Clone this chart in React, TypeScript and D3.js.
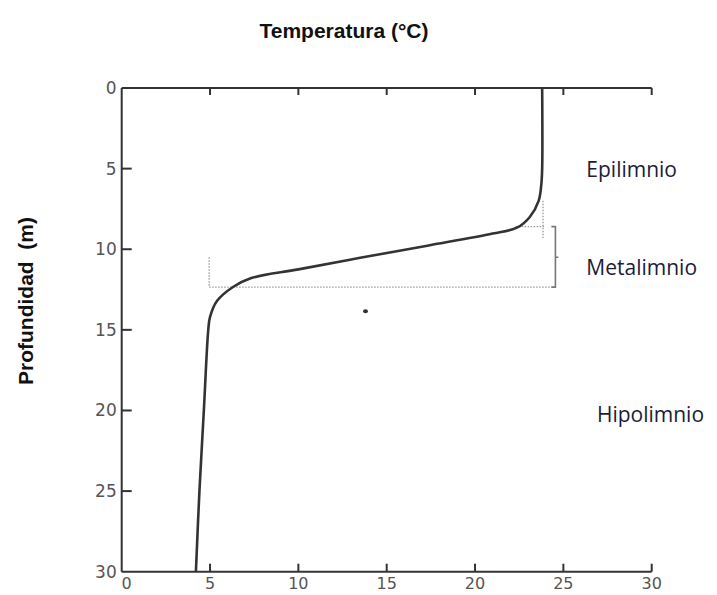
import React from "react";
import * as d3 from "d3";

// perfil térmico de un lago estratificado
const temperature = [23.8, 23.8, 23.75, 23.6, 23.1, 22.4, 21.0, 17.3, 13.5, 10.0, 7.3, 6.3, 5.4, 5.0, 4.9, 4.65, 4.4, 4.2];
const depth = [0, 5, 6, 7, 8, 8.65, 9.03, 9.78, 10.53, 11.25, 11.8, 12.34, 13.2, 14.2, 15, 20, 25, 30];

const xTicks = [0, 5, 10, 15, 20, 25, 30];
const yTicks = [0, 5, 10, 15, 20, 25, 30];

// límites del metalimnio (líneas punteadas y llave)
const metaTop = 8.6;
const metaBottom = 12.35;
const metaMid = 10.5;
const braceTemp = 24.55;

const layers = ["Epilimnio", "Metalimnio", "Hipolimnio"];
const layerDepth = [5, 11.1, 20.2];
const layerTemp = [26.3, 26.3, 26.9];

const App = () => {
  const width = 717;
  const height = 595;

  const x = d3.scaleLinear().domain([0, 30]).range([121.7, 651.7]);
  const y = d3.scaleLinear().domain([0, 30]).range([88, 571.7]);

  const points: [number, number][] = temperature.map((t, i) => [t, depth[i]]);
  const line = d3
    .line<[number, number]>()
    .x((d) => x(d[0]))
    .y((d) => y(d[1]))
    .curve(d3.curveCatmullRom.alpha(0.5));

  const axisColor = "#333";
  const tickFont = "'DejaVu Sans', sans-serif";
  const guide = "#9a9a9a";

  return (
    <svg
      width={width}
      height={height}
      style={{ position: "absolute", left: 0, top: 0, background: "#fff" }}
    >
      <text
        x={344}
        y={38}
        textAnchor="middle"
        fontFamily="'Liberation Sans', Arial, sans-serif"
        fontWeight="bold"
        fontSize={21}
        fill="#111"
      >
        Temperatura (°C)
      </text>
      <text
        transform="translate(33,301) rotate(-90)"
        textAnchor="middle"
        fontFamily="'Liberation Sans', Arial, sans-serif"
        fontWeight="bold"
        fontSize={21}
        fill="#111"
        style={{ whiteSpace: "pre" }}
      >
        {"Profundidad  (m)"}
      </text>

      {/* ejes */}
      <line x1={x(0)} y1={y(0)} x2={x(30)} y2={y(0)} stroke={axisColor} strokeWidth={2} />
      <line x1={x(0)} y1={y(0)} x2={x(0)} y2={y(30)} stroke={axisColor} strokeWidth={2} />
      <line x1={x(0)} y1={y(30)} x2={x(30)} y2={y(30)} stroke={axisColor} strokeWidth={2} />

      {yTicks.map((t, i) => (
        <g key={"y" + i} transform={`translate(${x(0)},${y(t)})`}>
          {t > 0 && t < 30 && <line x1={0} x2={10} stroke={axisColor} strokeWidth={2} />}
          <text
            x={-5}
            y={6}
            textAnchor="end"
            fontFamily={tickFont}
            fontSize={17}
            fill="#555"
          >
            {t}
          </text>
        </g>
      ))}

      {xTicks.map((t, i) => (
        <g key={"x" + i}>
          {t > 0 && (
            <line x1={x(t)} x2={x(t)} y1={y(30)} y2={y(30) - 8} stroke={axisColor} strokeWidth={2} />
          )}
          {t > 0 && (
            <line x1={x(t)} x2={x(t)} y1={y(0)} y2={y(0) + 7} stroke={axisColor} strokeWidth={2} />
          )}
          <text
            x={x(t) + (t === 0 ? 5 : 0)}
            y={589}
            textAnchor="middle"
            fontFamily={tickFont}
            fontSize={16}
            fill="#555"
          >
            {t}
          </text>
        </g>
      ))}

      {/* guías del metalimnio */}
      <g stroke={guide} strokeWidth={1.3} strokeDasharray="1.5 1.5" fill="none">
        <line x1={x(22.3)} x2={x(23.9)} y1={y(metaTop)} y2={y(metaTop)} />
        <line x1={x(23.85)} x2={x(23.85)} y1={y(7)} y2={y(9.3)} />
        <line x1={x(4.95)} x2={x(braceTemp)} y1={y(metaBottom)} y2={y(metaBottom)} />
        <line x1={x(4.95)} x2={x(4.95)} y1={y(10.5)} y2={y(metaBottom)} />
      </g>
      <path
        d={`M${x(braceTemp) - 4},${y(metaTop)} H${x(braceTemp)} V${y(metaMid)} h3 h-3 V${y(metaBottom)} h-4`}
        stroke="#777"
        strokeWidth={1.6}
        fill="none"
      />

      <path d={line(points) ?? ""} fill="none" stroke="#333" strokeWidth={2.6} />

      <ellipse cx={x(13.8)} cy={y(13.85)} rx={2.5} ry={2} fill="#333" />

      {layers.map((name, i) => (
        <text
          key={name}
          x={x(layerTemp[i])}
          y={y(layerDepth[i]) + 8}
          fontFamily="'Open Sans', sans-serif"
          fontSize={21}
          fill="#1c1c38"
        >
          {name}
        </text>
      ))}
    </svg>
  );
};

export default App;
